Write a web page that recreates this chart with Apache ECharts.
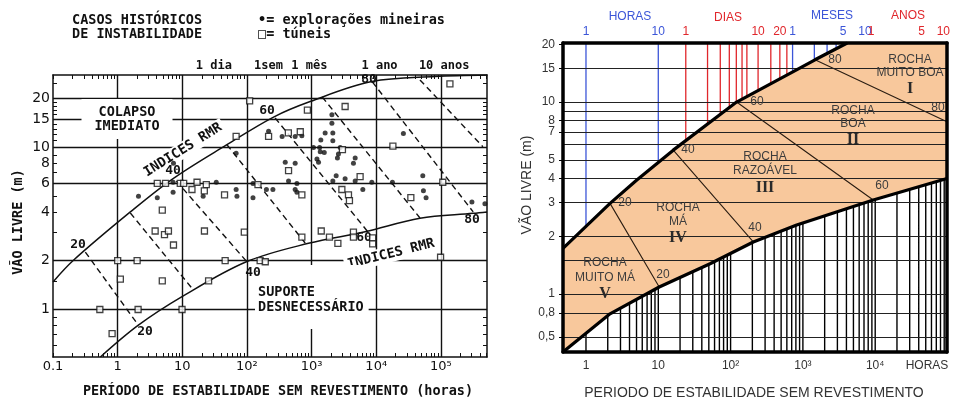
<!DOCTYPE html>
<html><head><meta charset="utf-8">
<script src="https://cdn.jsdelivr.net/npm/echarts@6/dist/echarts.min.js"></script>
<style>html,body{margin:0;padding:0;background:#fff}#c{width:954px;height:399px}</style>
</head><body><div id="c"></div>
<script>
// ================= LEFT CHART (hours, metres) =================
const L_xRange = [0.0999, 517000];
const L_yRange = [0.509, 28.0];
const L_xTickVals = [0.1, 1, 10, 100, 1000, 10000, 100000];
const L_xTickText = ['0.1', '1', '10', '10²', '10³', '10⁴', '10⁵'];
const L_yTickVals = [1, 2, 4, 6, 8, 10, 15, 20];
const L_yTickText = ['1', '2', '4', '6', '8', '10', '15', '20'];
const L_topTickVals = [24, 168, 720, 8760, 87600];
const L_topTickText = ['1 dia', '1sem', '1 mês', '1 ano', '10 anos'];
const L_hGrid = [20, 15, 10, 6, 2, 1];
const L_vGrid = [1, 10, 100, 1000, 10000, 100000];
const L_upperCurve = [[0.1,1.48],[0.209,2.02],[1.57,4.0],[7.3,6.45],[49,10.4],[258,15.4],[950,19.2],[8530,25.5],[81500,27.4],[517000,28.0]];
const L_lowerCurve = [[0.54,0.509],[2.09,0.80],[9.9,1.2],[98,1.97],[895,2.56],[6730,3.02],[47500,3.66],[316000,3.92],[517000,4.0]];
const L_rmrLines = [
  [[0.316,2.26],[2.09,0.80]],
  [[1.57,3.94],[14.8,1.32]],
  [[8.1,6.2],[101,1.96]],
  [[49,10.4],[795,2.57]],
  [[273,15.2],[7500,3.0]],
  [[1460,20.5],[47500,3.67]],
  [[8700,25.4],[316000,4.0]],
  [[47500,26.1],[447000,10.1]]
];
const L_mines = [[2.1,5.0],[4.1,4.9],[7.2,5.3],[7.3,8.0],[7.2,6.1],[21,5.0],[33.5,6.1],[68,9.2],[68,5.5],[70,5.0],[124,6.0],[124,4.9],[200,5.5],[252,5.5],[216,12.6],[350,11.7],[557,11.7],[707,11.8],[391,8.1],[557,8.0],[440,6.2],[593,6.0],[557,5.5],[593,5.3],[2060,15.9],[2060,14.1],[1620,12.3],[2130,12.3],[1390,11.1],[2130,11.0],[1070,10.0],[1330,10.0],[1360,9.4],[1570,9.3],[2770,10.0],[2600,9.1],[2510,8.6],[1210,8.5],[1280,8.1],[4720,8.6],[4440,8.0],[2400,6.7],[3300,6.4],[4720,6.2],[8550,6.1],[2130,6.2],[6200,5.5],[26300,12.2],[52500,6.7],[53700,5.4],[59000,4.9],[302000,4.6],[480000,4.5],[17800,6.1]];
const L_tunnels = [[110,19.4],[68,11.7],[216,11.7],[437,12.3],[668,12.5],[440,7.2],[4.1,6.0],[5.5,6.0],[9.3,6.0],[10.5,6.0],[16.9,6.1],[23.5,5.9],[148,5.9],[14.1,5.5],[21.9,5.4],[45,5.1],[707,5.1],[4.9,4.1],[138000,24.7],[3300,17.9],[861,17.0],[18100,10.2],[3000,9.7],[5630,6.6],[107000,6.1],[2940,5.5],[3720,5.1],[3850,4.7],[34300,4.9],[3.8,3.05],[5.3,2.9],[6.1,3.05],[7.3,2.5],[22,3.05],[91,3.0],[1,2.0],[2.0,2.0],[46,2.0],[1.1,1.54],[4.9,1.5],[25.5,1.5],[0.53,1.0],[2.07,1.0],[9.9,1.0],[0.82,0.71],[160,2.0],[192,1.97],[707,2.8],[1410,3.05],[1890,2.8],[2550,2.56],[4440,3.0],[4440,2.8],[8800,2.77],[8800,2.54],[98900,2.1]];

// ================= RIGHT CHART (hours, metres) =================
const R_xRange = [0.481, 98400];
const R_yRange = [0.5, 20.3];
const R_yTickVals = [20, 15, 10, 8, 7, 5, 4, 3, 2, 1, 0.8, 0.6];
const R_yTickText = ['20', '15', '10', '8', '7', '5', '4', '3', '2', '1', '0,8', '0,5'];
const R_xTickVals = [1, 10, 100, 1000, 10000];
const R_xTickText = ['1', '10', '10²', '10³', '10⁴'];
const R_topTickVals = [1, 10, 24, 240, 480, 720, 3600, 7200, 8760, 43800, 87600];
const R_topTickText = ['1', '10', '1', '10', '20', '1', '5', '10', '1', '5', '10'];
const R_topTickUnit = ['b', 'b', 'r', 'r', 'r', 'b', 'b', 'b', 'r', 'r', 'r'];
const R_hGrid = [15, 10, 9, 8, 7, 6, 5, 4, 3, 2, 1.5, 1, 0.8, 0.6];
const R_hourLines = [1, 10];
const R_dayLines = [24, 48, 72, 96, 120, 144, 168, 240, 360, 480, 600];
const R_monthLines = [720, 1440, 2160, 2880, 3600];
const R_upperCurve = [[0.481,1.73],[2.15,2.97],[5.0,3.92],[16.1,5.62],[121,10.0],[736,14.4],[1470,16.6],[4100,20.3]];
const R_lowerCurve = [[0.481,0.5],[2.15,0.79],[10.3,1.09],[52,1.44],[206,1.87],[820,2.29],[9400,3.09],[98400,4.0]];
const R_dividers = [
  [[2.15,2.97],[10.3,1.09]],
  [[16.1,5.62],[206,1.87]],
  [[121,10.0],[9400,3.09]],
  [[1470,16.6],[98400,7.9]]
];

// ================= helpers =================
const ORANGE = '#F8C89C';
const BLUE = '#3b55d8';
const RED = '#e0262b';
const LFONT = '"DejaVu Sans Mono", monospace';
const RFONT = '"Liberation Sans", Arial, sans-serif';
function lookup(vals, texts) {
  return v => { for (let i = 0; i < vals.length; i++) { if (Math.abs(vals[i] - v) <= vals[i] * 1e-6) return texts[i]; } return ''; };
}
function curveAt(curve, h) {
  if (h <= curve[0][0]) return curve[0][1];
  for (let i = 0; i < curve.length - 1; i++) {
    const a = curve[i], b = curve[i + 1];
    if (h >= a[0] && h <= b[0]) {
      const t = (Math.log10(h) - Math.log10(a[0])) / (Math.log10(b[0]) - Math.log10(a[0]));
      return Math.pow(10, Math.log10(a[1]) + t * (Math.log10(b[1]) - Math.log10(a[1])));
    }
  }
  return curve[curve.length - 1][1];
}
function segs(list) { const out = []; list.forEach(s => { out.push(s[0], s[1], '-'); }); return out; }
function logMinors(lo, hi, d0, d1) { const out = []; for (let d = d0; d <= d1; d++) for (let k = 1; k <= 9; k++) { const v = k * Math.pow(10, d); if (v >= lo && v <= hi) out.push(+v.toPrecision(6)); } return out; }

const L_xMinor = logMinors(L_xRange[0], L_xRange[1], -1, 5);
const L_yMinor = [0.6,0.7,0.8,0.9,1,1.5,2,3,4,5,6,7,8,9,10,11,12,13,14,15,16,17,18,19,20,25];

const colorVert = (list) => segs(list.filter(h => curveAt(R_upperCurve, h) < R_yRange[1]).map(h => [[h, R_yRange[1]], [h, curveAt(R_upperCurve, h)]]));
const blackList = logMinors(1, R_xRange[1], 0, 4);
const blackVert = segs(blackList.map(h => [[h, R_yRange[0]], [h, curveAt(R_lowerCurve, h)]]));
const orangePoly = [...R_upperCurve, [R_xRange[1], R_yRange[1]], ...R_lowerCurve.slice().reverse()];

function logAxis(grid, pos, range, extra) {
  return Object.assign({ gridIndex: grid, type: 'log', logBase: 10, position: pos, min: range[0], max: range[1],
    splitLine: { show: false }, minorTick: { show: false }, minorSplitLine: { show: false }, z: 10 }, extra);
}
const LLINE = { show: true, lineStyle: { color: '#111', width: 1.5 } };
const RLINE = { show: true, lineStyle: { color: '#000', width: 3.5 } };

function txt(x, y, text, font, extra) {
  return { type: 'text', x: x, y: y, z: 50, rotation: (extra && extra.rot) || 0,
    style: Object.assign({ text: text, font: font, fill: (extra && extra.fill) || '#111',
      align: 'center', textAlign: 'center', verticalAlign: 'middle', textVerticalAlign: 'middle' }, (extra && extra.style) || {}) };
}

const option = {
  animation: false,
  backgroundColor: '#fff',
  grid: [
    { left: 53, top: 75, width: 434, height: 282, show: false },
    { left: 563, top: 43, width: 384, height: 309, show: false }
  ],
  xAxis: [
    logAxis(0, 'bottom', L_xRange, { axisLine: LLINE,
      axisTick: { show: true, inside: true, length: 4, customValues: L_xMinor, lineStyle: { color: '#111', width: 1 } },
      axisLabel: { customValues: L_xTickVals, formatter: lookup(L_xTickVals, L_xTickText), margin: 3, color: '#111', fontFamily: '"DejaVu Sans"', fontSize: 13, padding: [0, 0, 0, 0] } }),
    logAxis(0, 'top', L_xRange, { axisLine: LLINE,
      axisTick: { show: true, inside: true, length: 4, customValues: L_xMinor, lineStyle: { color: '#111', width: 1 } },
      axisLabel: { customValues: L_topTickVals, formatter: lookup(L_topTickVals, L_topTickText), margin: 3, padding: [0, 0, 0, 14], color: '#111', fontFamily: LFONT, fontWeight: 'bold', fontSize: 12 } }),
    logAxis(1, 'bottom', R_xRange, { axisLine: RLINE, axisTick: { show: false },
      axisLabel: { customValues: R_xTickVals, formatter: lookup(R_xTickVals, R_xTickText), margin: 8, color: '#333', fontFamily: RFONT, fontSize: 12 } }),
    logAxis(1, 'top', R_xRange, { axisLine: RLINE, axisTick: { show: false },
      axisLabel: { customValues: R_topTickVals, margin: 5,
        formatter: v => { const i = R_topTickVals.findIndex(t => Math.abs(t - v) <= t * 1e-6); return i < 0 ? '' : '{' + R_topTickUnit[i] + '|' + R_topTickText[i] + '}'; },
        rich: { b: { color: BLUE, fontFamily: RFONT, fontSize: 12 }, r: { color: RED, fontFamily: RFONT, fontSize: 12 } } } })
  ],
  yAxis: [
    logAxis(0, 'left', L_yRange, { axisLine: LLINE,
      axisTick: { show: true, inside: true, length: 4, customValues: L_yMinor, lineStyle: { color: '#111', width: 1 } },
      axisLabel: { customValues: L_yTickVals, formatter: lookup(L_yTickVals, L_yTickText), margin: 3, color: '#111', fontFamily: '"DejaVu Sans"', fontSize: 14 } }),
    logAxis(0, 'right', L_yRange, { axisLine: LLINE,
      axisTick: { show: true, inside: true, length: 4, customValues: L_yMinor, lineStyle: { color: '#111', width: 1 } },
      axisLabel: { show: false } }),
    logAxis(1, 'left', R_yRange, { axisLine: RLINE,
      axisTick: { show: true, inside: false, length: 4, customValues: R_yTickVals, lineStyle: { color: '#000', width: 1 } },
      axisLabel: { customValues: R_yTickVals, formatter: lookup(R_yTickVals, R_yTickText), margin: 8, color: '#333', fontFamily: RFONT, fontSize: 12 } }),
    logAxis(1, 'right', R_yRange, { axisLine: RLINE, axisTick: { show: false }, axisLabel: { show: false } })
  ],
  series: [
    // ---- left ----
    { type: 'line', xAxisIndex: 0, yAxisIndex: 0, data: L_lowerCurve, smooth: 0.35, symbol: 'none', z: 2,
      lineStyle: { color: '#111', width: 1.5 },
      markLine: { silent: true, symbol: ['none', 'none'], label: { show: false }, lineStyle: { color: '#111', width: 1.4, type: 'solid' },
        data: [...L_hGrid.map(v => ({ yAxis: v })), ...L_vGrid.map(v => ({ xAxis: v }))] } },
    { type: 'line', xAxisIndex: 0, yAxisIndex: 0, data: L_upperCurve, smooth: 0.35, symbol: 'none', z: 3,
      lineStyle: { color: '#111', width: 1.5 } },
    { type: 'line', xAxisIndex: 0, yAxisIndex: 0, data: segs(L_rmrLines), connectNulls: false, symbol: 'none', z: 3,
      lineStyle: { color: '#111', width: 1.4, type: [6, 4] } },
    { type: 'scatter', xAxisIndex: 0, yAxisIndex: 0, data: L_mines, symbol: 'circle', symbolSize: 5, z: 60,
      itemStyle: { color: '#111' } },
    { type: 'scatter', xAxisIndex: 0, yAxisIndex: 0, data: L_tunnels, symbol: 'rect', symbolSize: 6, z: 60,
      itemStyle: { color: '#fff', borderColor: '#111', borderWidth: 1.3 } },
    // ---- right ----
    { type: 'line', xAxisIndex: 2, yAxisIndex: 2, data: [], symbol: 'none', z: 1,
      markLine: { silent: true, symbol: ['none', 'none'], label: { show: false }, lineStyle: { color: '#222', width: 1, type: 'solid' },
        data: R_hGrid.map(v => ({ yAxis: v })) } },
    { type: 'line', xAxisIndex: 2, yAxisIndex: 2, data: colorVert([...R_hourLines, ...R_monthLines]), connectNulls: false, symbol: 'none', z: 2,
      lineStyle: { color: BLUE, width: 1.3 } },
    { type: 'line', xAxisIndex: 2, yAxisIndex: 2, data: colorVert(R_dayLines), connectNulls: false, symbol: 'none', z: 2,
      lineStyle: { color: RED, width: 1.3 } },
    { type: 'line', xAxisIndex: 2, yAxisIndex: 2, data: blackVert, connectNulls: false, symbol: 'none', z: 2,
      lineStyle: { color: '#000', width: 1.4 } },
    { type: 'custom', xAxisIndex: 2, yAxisIndex: 2, data: [[1, 1]], z: 3,
      renderItem: (params, api) => ({ type: 'polygon', shape: { points: orangePoly.map(p => api.coord(p)) }, style: { fill: ORANGE } }) },
    { type: 'line', xAxisIndex: 2, yAxisIndex: 2, data: segs(R_dividers), connectNulls: false, symbol: 'none', z: 4,
      lineStyle: { color: '#2a1d12', width: 1.1 } },
    { type: 'line', xAxisIndex: 2, yAxisIndex: 2, data: R_upperCurve, symbol: 'none', z: 5, lineStyle: { color: '#000', width: 3.2 } },
    { type: 'line', xAxisIndex: 2, yAxisIndex: 2, data: R_lowerCurve, symbol: 'none', z: 5, lineStyle: { color: '#000', width: 3.2 } }
  ],
  graphic: [
    // left texts
    txt(72, 13, 'CASOS HISTÓRICOS\nDE INSTABILIDADE', 'bold 13.5px ' + LFONT, { style: { align: 'left', textAlign: 'left', verticalAlign: 'top', textVerticalAlign: 'top', lineHeight: 14 } }),
    txt(258, 13, '•= explorações mineiras\n□= túneis', 'bold 13.5px ' + LFONT, { style: { align: 'left', textAlign: 'left', verticalAlign: 'top', textVerticalAlign: 'top', lineHeight: 14 } }),
    txt(127, 119, 'COLAPSO\nIMEDIATO', 'bold 13.5px ' + LFONT, { style: { lineHeight: 14, backgroundColor: '#fff', padding: [6, 13] } }),
    txt(183, 150, 'INDICES RMR', 'bold 13.5px ' + LFONT, { rot: 32 * Math.PI / 180, style: { backgroundColor: '#fff', padding: [1, 3] } }),
    txt(391, 254, 'INDICES RMR', 'bold 13.5px ' + LFONT, { rot: 14 * Math.PI / 180, style: { backgroundColor: '#fff', padding: [1, 3] } }),
    txt(255, 265, 'SUPORTE\nDESNECESSÁRIO', 'bold 13.5px ' + LFONT, { style: { align: 'left', textAlign: 'left', verticalAlign: 'top', textVerticalAlign: 'top', lineHeight: 15, backgroundColor: '#fff', padding: [20, 5, 14, 3] } }),
    txt(78, 245, '20', 'bold 13px ' + LFONT), txt(145, 332, '20', 'bold 13px ' + LFONT),
    txt(173, 171, '40', 'bold 13px ' + LFONT), txt(253, 273, '40', 'bold 13px ' + LFONT),
    txt(267, 111, '60', 'bold 13px ' + LFONT), txt(364, 238, '60', 'bold 13px ' + LFONT),
    txt(369, 80, '80', 'bold 13px ' + LFONT), txt(472, 220, '80', 'bold 13px ' + LFONT),
    txt(18, 222, 'VÃO LIVRE (m)', 'bold 13.5px ' + LFONT, { rot: Math.PI / 2 }),
    txt(278, 391, 'PERÍODO DE ESTABILIDADE SEM REVESTIMENTO (horas)', 'bold 13.5px ' + LFONT),
    // right texts
    txt(630, 17, 'HORAS', '12px ' + RFONT, { fill: BLUE }),
    txt(728, 18, 'DIAS', '12px ' + RFONT, { fill: RED }),
    txt(832, 16, 'MESES', '12px ' + RFONT, { fill: BLUE }),
    txt(908, 16, 'ANOS', '12px ' + RFONT, { fill: RED }),
    txt(910, 66, 'ROCHA\nMUITO BOA', '12px ' + RFONT, { fill: '#3d3d3d', style: { lineHeight: 13 } }),
    txt(910, 89, 'I', 'bold 16px "Liberation Serif", serif', { fill: '#2a2a2a' }),
    txt(853, 117, 'ROCHA\nBOA', '12px ' + RFONT, { fill: '#3d3d3d', style: { lineHeight: 13 } }),
    txt(853, 140, 'II', 'bold 16px "Liberation Serif", serif', { fill: '#2a2a2a' }),
    txt(765, 164, 'ROCHA\nRAZOÁVEL', '12px ' + RFONT, { fill: '#3d3d3d', style: { lineHeight: 14 } }),
    txt(765, 188, 'III', 'bold 16px "Liberation Serif", serif', { fill: '#2a2a2a' }),
    txt(678, 215, 'ROCHA\nMÁ', '12px ' + RFONT, { fill: '#3d3d3d', style: { lineHeight: 14 } }),
    txt(678, 238, 'IV', 'bold 16px "Liberation Serif", serif', { fill: '#2a2a2a' }),
    txt(605, 270, 'ROCHA\nMUITO MÁ', '12px ' + RFONT, { fill: '#3d3d3d', style: { lineHeight: 15 } }),
    txt(605, 294, 'V', 'bold 16px "Liberation Serif", serif', { fill: '#2a2a2a' }),
    txt(835, 60, '80', '12px ' + RFONT, { fill: '#3d3d3d' }), txt(938, 108, '80', '12px ' + RFONT, { fill: '#3d3d3d' }),
    txt(757, 102, '60', '12px ' + RFONT, { fill: '#3d3d3d' }), txt(882, 186, '60', '12px ' + RFONT, { fill: '#3d3d3d' }),
    txt(688, 150, '40', '12px ' + RFONT, { fill: '#3d3d3d' }), txt(755, 228, '40', '12px ' + RFONT, { fill: '#3d3d3d' }),
    txt(625, 203, '20', '12px ' + RFONT, { fill: '#3d3d3d' }), txt(663, 275, '20', '12px ' + RFONT, { fill: '#3d3d3d' }),
    txt(927, 366, 'HORAS', '12px ' + RFONT, { fill: '#333' }),
    txt(527, 185, 'VÃO LIVRE (m)', '14px ' + RFONT, { fill: '#333', rot: Math.PI / 2 }),
    txt(754, 393, 'PERIODO DE ESTABILIDADE SEM REVESTIMENTO', '14px ' + RFONT, { fill: '#333' })
  ]
};
const chart = echarts.init(document.getElementById('c'));
chart.setOption(option);
</script>
</body></html>
